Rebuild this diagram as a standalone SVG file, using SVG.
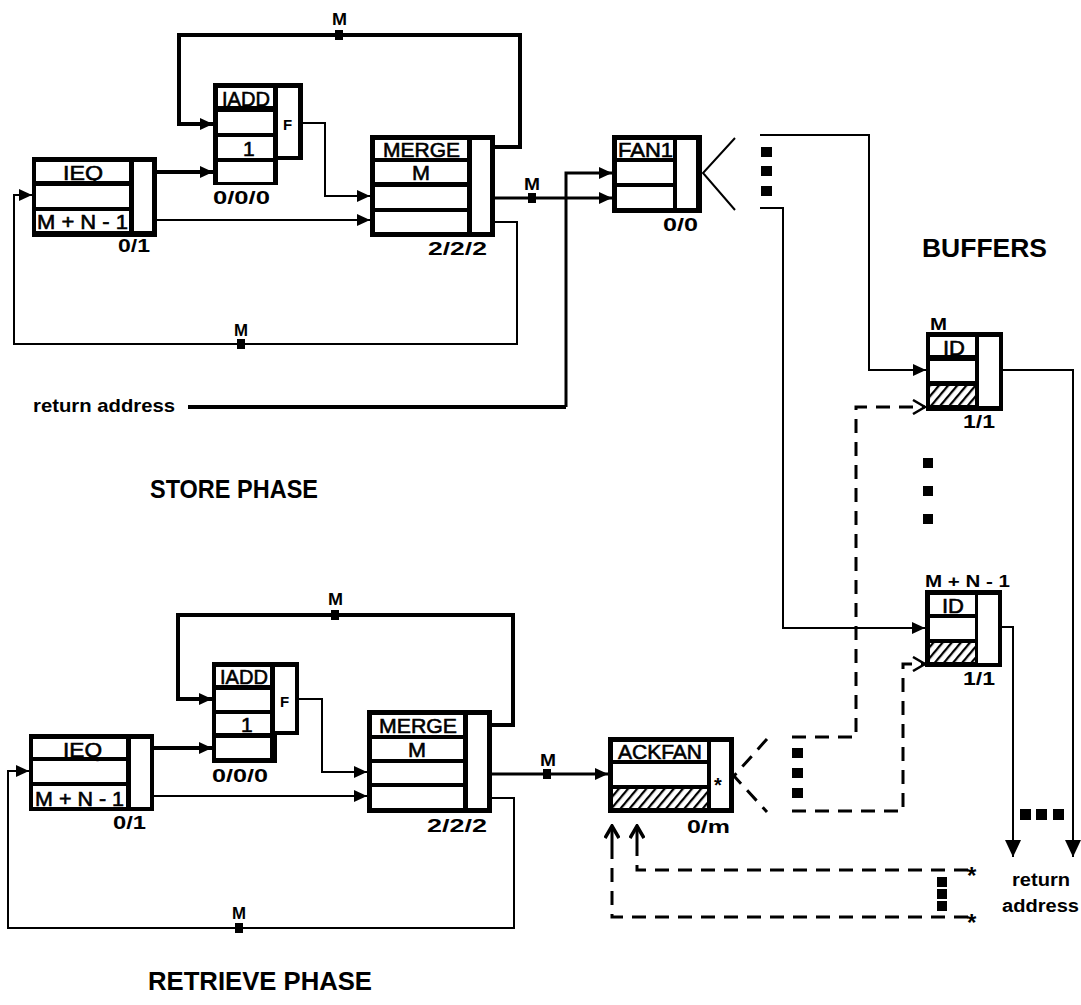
<svg xmlns="http://www.w3.org/2000/svg" width="1081" height="1005" viewBox="0 0 1081 1005">
<style>
.frame{fill:#000}
.cell{fill:#fff}
.hat{fill:url(#hatch)}
.thick{fill:none;stroke:#000;stroke-width:4}
.med{fill:none;stroke:#000;stroke-width:3}
.thin{fill:none;stroke:#000;stroke-width:2}
.dash{fill:none;stroke:#000;stroke-width:3;stroke-dasharray:14 9}
.dot{fill:#000}
text{font-family:"Liberation Sans",Arial,sans-serif;fill:#000}
.lab{font-size:21px;stroke:#000;stroke-width:0.6}
.sub{font-size:19px;font-weight:bold}
.mk{font-size:17px;font-weight:bold}
.big{font-size:26px;font-weight:bold}
.star{font-size:24px;font-weight:bold}
</style>
<defs>
<pattern id="hatch" width="7" height="7" patternUnits="userSpaceOnUse" patternTransform="rotate(40)">
<rect width="7" height="7" fill="#fff"/>
<line x1="1" y1="0" x2="1" y2="7" stroke="#000" stroke-width="2.5"/>
</pattern>
<marker id="arr" markerUnits="userSpaceOnUse" markerWidth="14" markerHeight="12" refX="13" refY="6" orient="auto">
<path d="M0,0 L13,6 L0,12 z" fill="#000"/>
</marker>
<marker id="arrL" markerUnits="userSpaceOnUse" markerWidth="18" markerHeight="16" refX="17" refY="8" orient="auto">
<path d="M0,0 L17,8 L0,16 z" fill="#000"/>
</marker>
<marker id="chev" markerUnits="userSpaceOnUse" markerWidth="16" markerHeight="16" refX="14" refY="8" orient="auto">
<path d="M2,1 L14,8 L2,15" fill="none" stroke="#000" stroke-width="2.5"/>
</marker>
<marker id="chevB" markerUnits="userSpaceOnUse" markerWidth="16" markerHeight="16" refX="14" refY="8" orient="auto">
<path d="M2,1 L14,8 L2,15" fill="none" stroke="#000" stroke-width="3.5"/>
</marker>
</defs>
<rect width="1081" height="1005" fill="#fff"/>

<g id="connectors">
<path class="thick" d="M157,172 H213" marker-end="url(#arr)"/>
<path class="thin" d="M157,220 H370" marker-end="url(#arr)"/>
<path class="thin" d="M303,123 H325 V196 H370" marker-end="url(#arr)"/>
<path class="thick" d="M495,147 H520 V35 H179 V124 H213" marker-end="url(#arr)"/>
<path class="thin" d="M495,222 H517 V344 H14 V195 H32" marker-end="url(#arr)"/>
<path class="med" d="M495,198 H612" marker-end="url(#arr)"/>
<path class="thick" d="M188,407 H566"/>
<path class="med" d="M566,407 V173 H612" marker-end="url(#arr)"/>
<path class="thin" d="M735,138 L703,173 L735,210"/>
<path class="thin" d="M760,135 H869 V370 H926" marker-end="url(#arr)"/>
<path class="thin" d="M760,208 H783 V628 H925" marker-end="url(#arr)"/>
<path class="thin" d="M1003,370 H1073 V857" marker-end="url(#arrL)"/>
<path class="thin" d="M1002,627 H1013 V857" marker-end="url(#arrL)"/>
<path class="thick" d="M154,748 H212" marker-end="url(#arr)"/>
<path class="thin" d="M154,796 H367" marker-end="url(#arr)"/>
<path class="thin" d="M299,699 H322 V772 H367" marker-end="url(#arr)"/>
<path class="thick" d="M492,725 H513 V615 H178 V699 H212" marker-end="url(#arr)"/>
<path class="thin" d="M492,798 H514 V928 H8 V771 H29" marker-end="url(#arr)"/>
<path class="med" d="M492,774 H608" marker-end="url(#arr)"/>
<path class="dash" d="M767,739 L734,776 L767,812"/>
<path class="dash" d="M792,737 H856 V407 H925" marker-end="url(#chev)"/>
<path class="dash" d="M792,811 H903 V664 H925" marker-end="url(#chev)"/>
<path class="dash" d="M968,870 H637 V850"/>
<path class="dash" d="M968,917 H612 V850"/>
<path class="med" d="M637,850 V826" marker-end="url(#chevB)"/>
<path class="med" d="M612,850 V826" marker-end="url(#chevB)"/>
<rect class="dot" x="335" y="30" width="8" height="10"/>
<rect class="dot" x="528" y="193" width="8" height="10"/>
<rect class="dot" x="237" y="339" width="8" height="10"/>
<rect class="dot" x="331" y="610" width="8" height="10"/>
<rect class="dot" x="543" y="769" width="8" height="10"/>
<rect class="dot" x="235" y="923" width="8" height="10"/>
<text class="mk" x="332" y="25" textLength="15" lengthAdjust="spacingAndGlyphs">M</text>
<text class="mk" x="524" y="190" textLength="16" lengthAdjust="spacingAndGlyphs">M</text>
<text class="mk" x="234" y="336" textLength="14" lengthAdjust="spacingAndGlyphs">M</text>
<text class="mk" x="328" y="605" textLength="15" lengthAdjust="spacingAndGlyphs">M</text>
<text class="mk" x="540" y="766" textLength="16" lengthAdjust="spacingAndGlyphs">M</text>
<text class="mk" x="232" y="919" textLength="14" lengthAdjust="spacingAndGlyphs">M</text>
<rect class="dot" x="761" y="147" width="11" height="10"/>
<rect class="dot" x="761" y="166" width="11" height="10"/>
<rect class="dot" x="761" y="186" width="11" height="10"/>
<rect class="dot" x="923" y="458" width="10" height="10"/>
<rect class="dot" x="923" y="486" width="10" height="10"/>
<rect class="dot" x="923" y="514" width="10" height="10"/>
<rect class="dot" x="792" y="748" width="11" height="10"/>
<rect class="dot" x="792" y="768" width="11" height="10"/>
<rect class="dot" x="792" y="788" width="11" height="10"/>
<rect class="dot" x="937" y="877" width="10" height="10"/>
<rect class="dot" x="937" y="889" width="10" height="10"/>
<rect class="dot" x="937" y="901" width="10" height="10"/>
<rect class="dot" x="1020" y="809" width="11" height="11"/>
<rect class="dot" x="1036" y="809" width="11" height="11"/>
<rect class="dot" x="1053" y="809" width="11" height="11"/>
<text class="star" x="967" y="884">*</text>
<text class="star" x="967" y="931">*</text>
</g>

<g id="ieq-store">
<rect class="frame" x="32" y="157" width="125" height="80"/>
<rect class="cell" x="36" y="162" width="93" height="19"/>
<rect class="cell" x="36" y="186" width="93" height="21"/>
<rect class="cell" x="36" y="211" width="93" height="20"/>
<rect class="cell" x="134" y="162" width="18" height="69"/>
<text class="lab" x="63" y="180" textLength="40" lengthAdjust="spacingAndGlyphs">IEQ</text>
<text class="lab" x="37" y="229" textLength="91" lengthAdjust="spacingAndGlyphs">M + N - 1</text>
<text class="sub" x="118" y="252" textLength="32" lengthAdjust="spacingAndGlyphs">0/1</text>
</g>

<g id="iadd-store">
<rect class="frame" x="213" y="83" width="65" height="102"/>
<rect class="frame" x="277" y="83" width="26" height="77"/>
<rect class="cell" x="218" y="88" width="55" height="18"/>
<rect class="cell" x="218" y="112" width="55" height="21"/>
<rect class="cell" x="218" y="137" width="55" height="21"/>
<rect class="cell" x="218" y="162" width="55" height="20"/>
<rect class="cell" x="278" y="88" width="20" height="68"/>
<text class="lab" x="222" y="106" textLength="48" lengthAdjust="spacingAndGlyphs">IADD</text>
<text class="lab" x="243" y="156">1</text>
<text x="283" y="130" style="font-size:15px;font-weight:bold">F</text>
<text class="sub" x="213" y="204" textLength="57" lengthAdjust="spacingAndGlyphs">0/0/0</text>
</g>

<g id="merge-store">
<rect class="frame" x="370" y="135" width="125" height="102"/>
<rect class="cell" x="375" y="140" width="92" height="18"/>
<rect class="cell" x="375" y="162" width="92" height="20"/>
<rect class="cell" x="375" y="187" width="92" height="21"/>
<rect class="cell" x="375" y="212" width="92" height="20"/>
<rect class="cell" x="472" y="140" width="18" height="92"/>
<text class="lab" x="383" y="157" textLength="77" lengthAdjust="spacingAndGlyphs">MERGE</text>
<text class="lab" x="412" y="180" textLength="18" lengthAdjust="spacingAndGlyphs">M</text>
<text class="sub" x="428" y="255" textLength="59" lengthAdjust="spacingAndGlyphs">2/2/2</text>
</g>

<g id="fan1">
<rect class="frame" x="612" y="135" width="90" height="78"/>
<rect class="cell" x="617" y="140" width="56" height="18"/>
<rect class="cell" x="617" y="162" width="56" height="21"/>
<rect class="cell" x="617" y="187" width="56" height="21"/>
<rect class="cell" x="677" y="140" width="19" height="68"/>
<text class="lab" x="618" y="157" textLength="55" lengthAdjust="spacingAndGlyphs">FAN1</text>
<text class="sub" x="663" y="231" textLength="35" lengthAdjust="spacingAndGlyphs">0/0</text>
</g>

<g id="id-m">
<rect class="frame" x="926" y="332" width="77" height="79"/>
<rect class="cell" x="930" y="337" width="45" height="18"/>
<rect class="cell" x="930" y="361" width="45" height="20"/>
<rect class="hat" x="930" y="386" width="45" height="19"/>
<rect class="cell" x="979" y="337" width="20" height="69"/>
<text class="mk" x="930" y="330" textLength="17" lengthAdjust="spacingAndGlyphs">M</text>
<text class="lab" x="943" y="355" textLength="22" lengthAdjust="spacingAndGlyphs">ID</text>
<text class="sub" x="963" y="428" textLength="32" lengthAdjust="spacingAndGlyphs">1/1</text>
</g>

<g id="id-mn1">
<rect class="frame" x="925" y="590" width="77" height="77"/>
<rect class="cell" x="930" y="595" width="45" height="19"/>
<rect class="cell" x="930" y="618" width="45" height="21"/>
<rect class="hat" x="930" y="643" width="45" height="19"/>
<rect class="cell" x="978" y="595" width="20" height="68"/>
<text class="mk" x="925" y="587" textLength="85" lengthAdjust="spacingAndGlyphs">M + N - 1</text>
<text class="lab" x="942" y="613" textLength="22" lengthAdjust="spacingAndGlyphs">ID</text>
<text class="sub" x="963" y="685" textLength="32" lengthAdjust="spacingAndGlyphs">1/1</text>
</g>

<g id="ieq-retrieve">
<rect class="frame" x="29" y="734" width="125" height="77"/>
<rect class="cell" x="33" y="739" width="93" height="18"/>
<rect class="cell" x="33" y="761" width="93" height="21"/>
<rect class="cell" x="33" y="786" width="93" height="21"/>
<rect class="cell" x="131" y="739" width="19" height="68"/>
<text class="lab" x="63" y="757" textLength="39" lengthAdjust="spacingAndGlyphs">IEQ</text>
<text class="lab" x="35" y="806" textLength="89" lengthAdjust="spacingAndGlyphs">M + N - 1</text>
<text class="sub" x="113" y="829" textLength="33" lengthAdjust="spacingAndGlyphs">0/1</text>
</g>

<g id="iadd-retrieve">
<rect class="frame" x="212" y="662" width="65" height="101"/>
<rect class="frame" x="276" y="662" width="23" height="73"/>
<rect class="cell" x="216" y="667" width="54" height="18"/>
<rect class="cell" x="216" y="690" width="54" height="20"/>
<rect class="cell" x="216" y="714" width="54" height="19"/>
<rect class="cell" x="216" y="738" width="54" height="20"/>
<rect class="cell" x="275" y="667" width="20" height="64"/>
<text class="lab" x="220" y="684" textLength="48" lengthAdjust="spacingAndGlyphs">IADD</text>
<text class="lab" x="241" y="732">1</text>
<text x="280" y="707" style="font-size:15px;font-weight:bold">F</text>
<text class="sub" x="212" y="782" textLength="56" lengthAdjust="spacingAndGlyphs">0/0/0</text>
</g>

<g id="merge-retrieve">
<rect class="frame" x="367" y="710" width="125" height="103"/>
<rect class="cell" x="372" y="715" width="91" height="20"/>
<rect class="cell" x="372" y="739" width="91" height="20"/>
<rect class="cell" x="372" y="763" width="91" height="20"/>
<rect class="cell" x="372" y="787" width="91" height="21"/>
<rect class="cell" x="468" y="715" width="19" height="93"/>
<text class="lab" x="379" y="733" textLength="78" lengthAdjust="spacingAndGlyphs">MERGE</text>
<text class="lab" x="408" y="757" textLength="18" lengthAdjust="spacingAndGlyphs">M</text>
<text class="sub" x="427" y="832" textLength="60" lengthAdjust="spacingAndGlyphs">2/2/2</text>
</g>

<g id="ackfan">
<rect class="frame" x="608" y="737" width="126" height="76"/>
<rect class="cell" x="613" y="742" width="94" height="18"/>
<rect class="cell" x="613" y="764" width="94" height="21"/>
<rect class="hat" x="613" y="789" width="94" height="19"/>
<rect class="cell" x="711" y="742" width="18" height="66"/>
<text class="lab" x="618" y="759" textLength="84" lengthAdjust="spacingAndGlyphs">ACKFAN</text>
<text class="star" x="714" y="792" style="font-size:20px">*</text>
<text class="sub" x="687" y="833" textLength="43" lengthAdjust="spacingAndGlyphs">0/m</text>
</g>

<g id="labels">
<text class="mk" x="33" y="412" style="font-size:19px" textLength="142" lengthAdjust="spacingAndGlyphs">return address</text>
<text class="big" x="150" y="498" textLength="168" lengthAdjust="spacingAndGlyphs">STORE PHASE</text>
<text class="big" x="148" y="990" textLength="224" lengthAdjust="spacingAndGlyphs">RETRIEVE PHASE</text>
<text class="big" x="922" y="257" style="font-size:25px" textLength="125" lengthAdjust="spacingAndGlyphs">BUFFERS</text>
<text class="mk" x="1012" y="886" style="font-size:18px" textLength="58" lengthAdjust="spacingAndGlyphs">return</text>
<text class="mk" x="1002" y="912" style="font-size:18px" textLength="77" lengthAdjust="spacingAndGlyphs">address</text>
</g>
</svg>
